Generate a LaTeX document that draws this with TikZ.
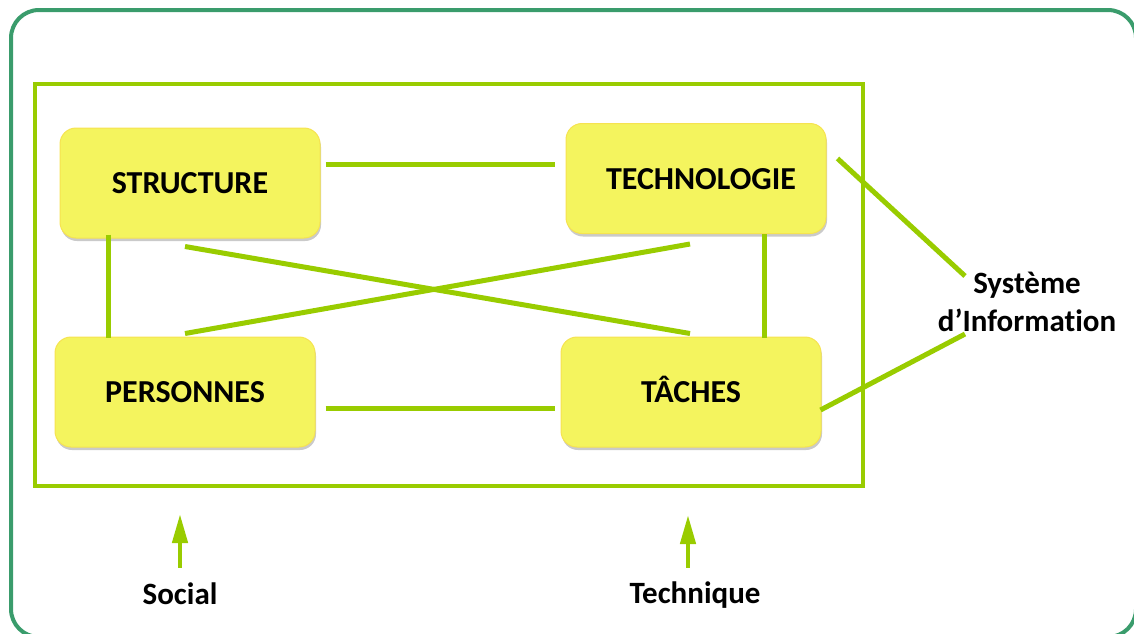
\documentclass[tikz,border=0pt]{standalone}
\usepackage{fontspec}
\setmainfont{Carlito}[Ligatures=NoCommon]
\usetikzlibrary{arrows.meta,shadows}
\definecolor{cadregreen}{HTML}{3A9C6C}
\definecolor{lienvert}{HTML}{99CC00}
\definecolor{boxjaune}{HTML}{F4F45E}
\tikzset{
  bloc/.style={rounded corners=16pt,fill=boxjaune,draw=boxjaune!85!orange,line width=1pt,
    minimum width=260pt,minimum height=110pt,text height=21pt,text depth=0pt,
    font=\fontsize{32}{38}\selectfont\bfseries,
    drop shadow={shadow xshift=1pt,shadow yshift=-3pt,opacity=0.35,fill=black!60}},
  lien/.style={lienvert,line width=5pt},
  etiquette/.style={font=\fontsize{31}{38}\selectfont\bfseries,inner sep=0pt},
  fleche/.style={lienvert,line width=4.5pt,-{Triangle[length=29pt,width=15pt]}}
}
\begin{document}
\begin{tikzpicture}[x=1pt,y=-1pt]
      \useasboundingbox (0,0) rectangle (1134,633);
      \draw[cadregreen,line width=4pt,rounded corners=28pt] (11,10) rectangle (1136,637);
      \draw[lienvert,line width=4.5pt] (35,84) rectangle (863,486);

      \node[bloc] (struct) at (190,183) {STRUCTURE};
      \node[bloc] (techno) at (696,178.5) {\hspace*{10pt}TECHNOLOGIE};
      \node[bloc] (pers) at (185,392) {PERSONNES};
      \node[bloc] (taches) at (691,392) {TÂCHES};

      \node[etiquette,align=center] (si) at (1027,302) {Système\\d’Information};
      \node[etiquette] (social) at (180,594) {Social};
      \node[etiquette] (techn) at (695,595) {Technique};
      \coordinate (socialtip) at (180,514);
      \coordinate (techntip) at (688,515);

      \draw[lien] ([xshift=5pt,yshift=19pt]struct.east) -- ([xshift=-11pt,yshift=14.5pt]techno.west);
      \draw[lien] ([xshift=10pt,yshift=-16pt]pers.east) -- ([xshift=-6pt,yshift=-16pt]taches.west);
      \draw[lien] ([xshift=-82pt,yshift=4pt]struct.south) -- ([xshift=-77pt,yshift=-1pt]pers.north);
      \draw[lien] ([xshift=68pt]techno.south) -- ([xshift=73pt,yshift=-1pt]taches.north);
      \draw[lien] ([xshift=-5pt,yshift=-8pt]struct.south) -- ([xshift=-1pt,yshift=3pt]taches.north);
      \draw[lien] ([yshift=3pt]pers.north) -- ([xshift=-6pt,yshift=-10pt]techno.south);
      \draw[lien] ([xshift=11pt,yshift=20pt]techno.east) -- ([xshift=-62pt,yshift=26pt]si.center);
      \draw[lien] ([xshift=-1pt,yshift=-18pt]taches.east) -- ([xshift=-62pt,yshift=-32pt]si.center);

      \draw[fleche] ([yshift=15pt]social.north) -- (socialtip);
      \draw[fleche] ([xshift=-7pt,yshift=14pt]techn.north) -- (techntip);
\end{tikzpicture}
\end{document}
